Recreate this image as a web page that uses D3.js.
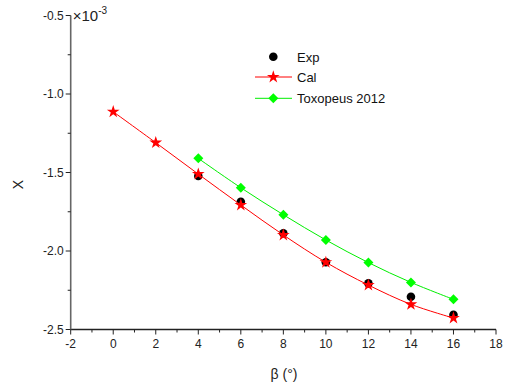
<!DOCTYPE html>
<html>
<head>
<meta charset="utf-8">
<script src="https://cdn.jsdelivr.net/npm/d3@7"></script>
<style>
  body { margin: 0; background: #fff; }
  text { font-family: Arial, "Liberation Sans", sans-serif; }
</style>
</head>
<body>
<div id="chart"></div>
<script>
// values in units of 1e-3
const betaCal = [0, 2, 4, 6, 8, 10, 12, 14, 16];
const xCal = [-1.113, -1.31, -1.51, -1.707, -1.898, -2.072, -2.217, -2.34, -2.427];
const betaExp = [4, 6, 8, 10, 12, 14, 16];
const xExp = [-1.522, -1.686, -1.887, -2.072, -2.206, -2.291, -2.406];
const betaTox = [4, 6, 8, 10, 12, 14, 16];
const xTox = [-1.41, -1.597, -1.769, -1.93, -2.074, -2.2, -2.308];
const xTicks = [-2, 0, 2, 4, 6, 8, 10, 12, 14, 16, 18];
const yTicks = [-0.5, -1.0, -1.5, -2.0, -2.5];

const width = 513, height = 392;
const margin = { left: 70.7, right: 17, top: 15.5, bottom: 62.5 };

const svg = d3.select("#chart").append("svg")
    .attr("width", width)
    .attr("height", height);

const x = d3.scaleLinear().domain([-2, 18]).range([margin.left, width - margin.right]);
const y = d3.scaleLinear().domain([-2.5, -0.5]).range([height - margin.bottom, margin.top]);

// x axis
const xAxis = svg.append("g")
    .attr("transform", `translate(0,${y(-2.5)})`);
xAxis.append("line")
    .attr("x1", x(-2)).attr("x2", x(18))
    .attr("stroke", "#222").attr("stroke-width", 1.4);
xAxis.selectAll(".minor").data(d3.range(-1, 18, 2)).enter().append("line")
    .attr("x1", d => x(d)).attr("x2", d => x(d))
    .attr("y1", 0).attr("y2", 3)
    .attr("stroke", "#222").attr("stroke-width", 1);
xAxis.selectAll(".major").data(xTicks).enter().append("line")
    .attr("x1", d => x(d)).attr("x2", d => x(d))
    .attr("y1", 0).attr("y2", 5)
    .attr("stroke", "#222").attr("stroke-width", 1);
xAxis.selectAll(".lbl").data(xTicks).enter().append("text")
    .attr("x", d => x(d)).attr("y", 18)
    .attr("text-anchor", "middle")
    .attr("font-size", 12)
    .attr("fill", "#222")
    .text(d => d);

// y axis
const yAxis = svg.append("g")
    .attr("transform", `translate(${x(-2)},0)`);
yAxis.append("line")
    .attr("y1", y(-0.5)).attr("y2", y(-2.5))
    .attr("stroke", "#666").attr("stroke-width", 1.6);
yAxis.selectAll(".minor").data([-0.75, -1.25, -1.75, -2.25]).enter().append("line")
    .attr("y1", d => y(d)).attr("y2", d => y(d))
    .attr("x1", 0).attr("x2", -3)
    .attr("stroke", "#222").attr("stroke-width", 1);
yAxis.selectAll(".major").data(yTicks).enter().append("line")
    .attr("y1", d => y(d)).attr("y2", d => y(d))
    .attr("x1", 0).attr("x2", -5)
    .attr("stroke", "#222").attr("stroke-width", 1);
yAxis.selectAll(".lbl").data(yTicks).enter().append("text")
    .attr("x", -7).attr("y", d => y(d) + 4)
    .attr("text-anchor", "end")
    .attr("font-size", 12)
    .attr("fill", "#222")
    .text(d => d.toFixed(1));

// x10^-3 multiplier
const mult = svg.append("text")
    .attr("x", x(-2) + 2).attr("y", y(-0.5) + 5.5)
    .attr("font-size", 15).attr("fill", "#222");
mult.append("tspan").text("×10");
mult.append("tspan").attr("dy", -7).attr("font-size", 10).text("-3");

// axis titles
svg.append("text")
    .attr("transform", `translate(23,${(y(-0.5) + y(-2.5)) / 2 + 12}) rotate(-90)`)
    .attr("text-anchor", "middle")
    .attr("font-size", 14)
    .attr("fill", "#222")
    .text("X");
svg.append("text")
    .attr("x", 284).attr("y", 379)
    .attr("text-anchor", "middle")
    .attr("font-family", "'Liberation Serif', 'Times New Roman', serif")
    .attr("font-size", 14)
    .attr("fill", "#222")
    .text("β (°)");

const line = d3.line().curve(d3.curveCatmullRom);

const star = d3.symbol().type(d3.symbolStar).size(50);
const diamond = d3.symbol().type(d3.symbolSquare).size(50);

// Toxopeus 2012
const toxPts = betaTox.map((b, i) => [x(b), y(xTox[i])]);
svg.append("path").attr("d", line(toxPts))
    .attr("fill", "none").attr("stroke", "#00ee00").attr("stroke-width", 1);
svg.selectAll(".tox").data(toxPts).enter().append("path")
    .attr("d", diamond)
    .attr("transform", d => `translate(${d[0]},${d[1]}) rotate(45)`)
    .attr("fill", "#00ff00");

// Exp
svg.selectAll(".exp").data(betaExp).enter().append("circle")
    .attr("cx", d => x(d))
    .attr("cy", (d, i) => y(xExp[i]))
    .attr("r", 4.3)
    .attr("fill", "#000");

// Cal
const calPts = betaCal.map((b, i) => [x(b), y(xCal[i])]);
svg.append("path").attr("d", line(calPts))
    .attr("fill", "none").attr("stroke", "#ff0000").attr("stroke-width", 1);
svg.selectAll(".cal").data(calPts).enter().append("path")
    .attr("d", star)
    .attr("transform", d => `translate(${d[0]},${d[1]})`)
    .attr("fill", "#ff0000");

// legend
const legend = svg.append("g");
legend.append("circle").attr("cx", 273.3).attr("cy", 56.7).attr("r", 4.3).attr("fill", "#000");
legend.append("text").attr("x", 297).attr("y", 61.5).attr("font-size", 13).attr("fill", "#111").text("Exp");

legend.append("line").attr("x1", 255).attr("x2", 292).attr("y1", 77).attr("y2", 77)
    .attr("stroke", "#ff0000").attr("stroke-width", 1);
legend.append("path").attr("d", star).attr("transform", "translate(273.3,77)").attr("fill", "#ff0000");
legend.append("text").attr("x", 297).attr("y", 82).attr("font-size", 13).attr("fill", "#111").text("Cal");

legend.append("line").attr("x1", 255).attr("x2", 292).attr("y1", 98.3).attr("y2", 98.3)
    .attr("stroke", "#00ee00").attr("stroke-width", 1);
legend.append("path").attr("d", diamond).attr("transform", "translate(273.3,98.3) rotate(45)").attr("fill", "#00ff00");
legend.append("text").attr("x", 297).attr("y", 103).attr("font-size", 13).attr("fill", "#111").text("Toxopeus 2012");
</script>
</body>
</html>
